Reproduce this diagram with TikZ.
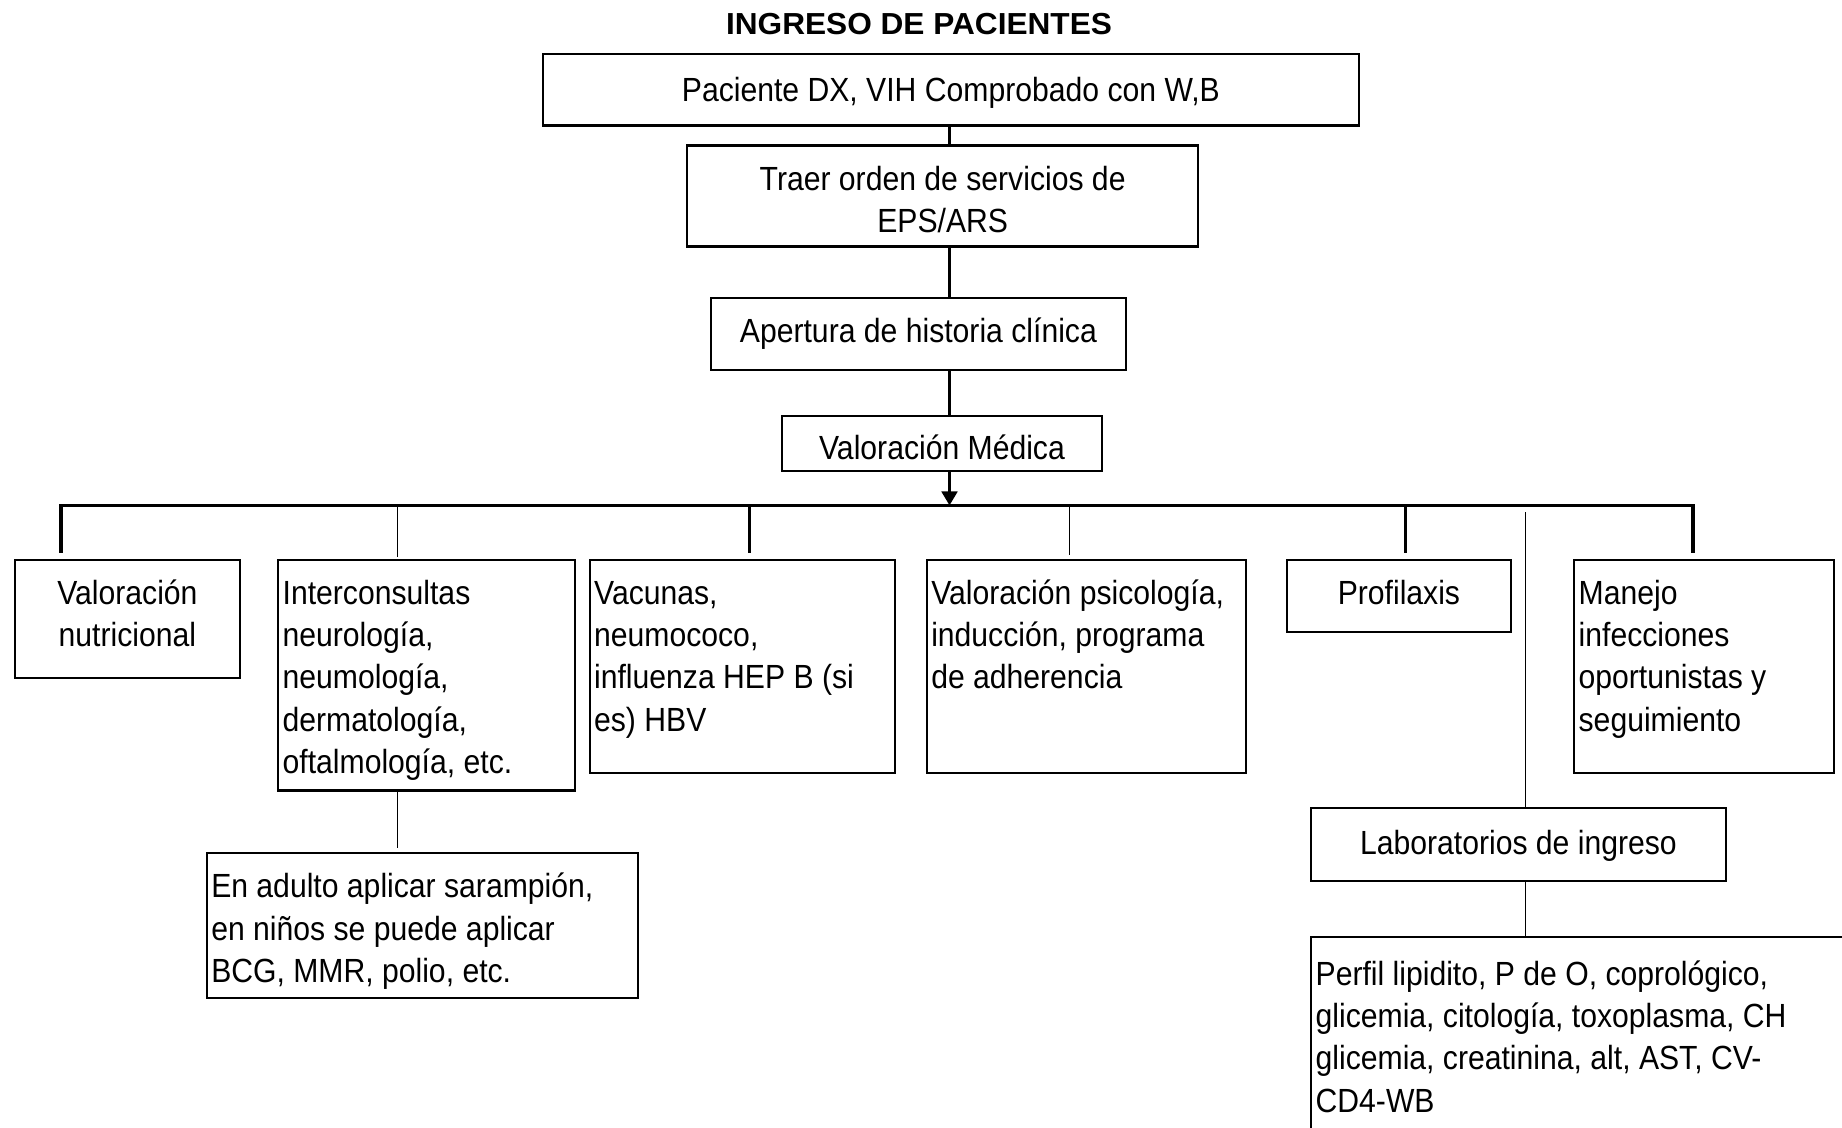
\documentclass[tikz,border=0pt]{standalone}
\usepackage{fontspec}
\setmainfont{Liberation Sans}[FakeStretch=0.9]
\newfontfamily\headfont{Liberation Sans Bold}[FakeStretch=1.04]
\usetikzlibrary{arrows.meta}

% one drawing unit = 0.5pt
\newlength\px
\setlength\px{0.5pt}
\newcommand\bodyfont{\fontsize{16.75pt}{21.2pt}\selectfont}
% \lcell{width}{height}{first baseline}{text}: left aligned, top anchored
\newcommand\lcell[4]{\parbox[c][#2\px][t]{#1\px}{\bodyfont\raggedright\leftskip=4.5\px\relax\rule{0pt}{#3\px}#4}}
% \ccell{width}{height}{first baseline}{text}: centred, top anchored
\newcommand\ccell[4]{\parbox[c][#2\px][t]{#1\px}{\bodyfont\centering\rule{0pt}{#3\px}#4}}

\tikzset{
  cell/.style={draw=black, line width=1.15pt, inner sep=0pt, anchor=north west, fill=white},
  heavy/.style={line width=1.75pt},
  light/.style={line width=0.8pt},
}

\begin{document}
\begin{tikzpicture}[x=0.5pt, y=-0.5pt]
\fill[white] (0,0) rectangle (1842,1128);
\useasboundingbox (0,0) rectangle (1842,1128);

% heading
\node[anchor=base, inner sep=0pt] (title) at (919,35) {\headfont\fontsize{15.2pt}{18pt}\selectfont INGRESO DE PACIENTES};

% main column
\node[cell] (pac) at (541.5,53) {\ccell{816.5}{71.5}{47}{Paciente DX, VIH Comprobado con W,B}};
\node[cell] (orden) at (686,144.5) {\ccell{511}{101}{44.5}{Traer orden de servicios de\\EPS/ARS}};
\node[cell] (hist) at (709.5,297) {\ccell{415.5}{72}{44}{Apertura de historia clínica}};
\node[cell] (med) at (781,414.7) {\ccell{319.7}{55.3}{43.3}{Valoración Médica}};

% branches
\node[cell] (nutr) at (14,559) {\ccell{224.5}{117.6}{44}{Valoración\\nutricional}};
\node[cell] (inter) at (277,559) {\lcell{297}{230.4}{44}{Interconsultas\\neurología,\\neumología,\\dermatología,\\oftalmología, etc.}};
\node[cell] (vac) at (588.5,559) {\lcell{305.5}{213}{44}{Vacunas,\\neumococo,\\influenza HEP B (si\\es) HBV}};
\node[cell] (psic) at (925.6,559) {\lcell{319.5}{213}{44}{Valoración psicología,\\inducción, programa\\de adherencia}};
\node[cell] (prof) at (1286,559) {\ccell{223.5}{72}{44}{Profilaxis}};
\node[cell] (manejo) at (1573,559) {\lcell{259.5}{213}{44}{Manejo\\infecciones\\oportunistas y\\seguimiento}};

% second level
\node[cell] (adulto) at (205.6,851.7) {\lcell{431}{145.3}{45}{En adulto aplicar sarampión,\\en niños se puede aplicar\\BCG, MMR, polio, etc.}};
\node[cell] (lab) at (1310,807) {\ccell{414.5}{73}{46}{Laboratorios de ingreso}};
\node[cell] (perfil) at (1310,936) {\lcell{545}{210}{48}{Perfil lipidito, P de O, coprológico,\\glicemia, citología, toxoplasma, CH\\glicemia, creatinina, alt, AST, CV-\\CD4-WB}};

% spine and bus
\coordinate (spine) at (949.5,0);
\coordinate (busL) at (61,505.5);
\coordinate (busR) at (1693,505.5);
\coordinate (dNutr) at (61,505.5);
\coordinate (dInter) at (397.5,505.5);
\coordinate (dVac) at (749.5,505.5);
\coordinate (dPsic) at (1069.5,505.5);
\coordinate (dProf) at (1405.5,505.5);
\coordinate (dMan) at (1693,505.5);
\coordinate (labTop) at (1525.5,512);

\draw[heavy] (pac.south -| spine) -- (orden.north -| spine);
\draw[heavy] (orden.south -| spine) -- (hist.north -| spine);
\draw[heavy] (hist.south -| spine) -- (med.north -| spine);
\draw[heavy, -{Triangle[width=7.7pt, length=7pt]}] (med.south -| spine) -- (busL -| spine);
\draw[heavy, line cap=rect] (busL) -- (busR);

% drops end a little above the boxes
\draw[heavy] (dNutr) -- ([yshift=3pt]dNutr |- nutr.north);
\draw[light] (dInter) -- ([yshift=1pt]dInter |- inter.north);
\draw[heavy] (dVac) -- ([yshift=3pt]dVac |- vac.north);
\draw[light] (dPsic) -- ([yshift=2pt]dPsic |- psic.north);
\draw[heavy] (dProf) -- ([yshift=3pt]dProf |- prof.north);
\draw[heavy] (dMan) -- ([yshift=3pt]dMan |- manejo.north);

\draw[light] (labTop) -- (labTop |- lab.north);
\draw[light] (lab.south -| labTop) -- (perfil.north -| labTop);
\draw[light] (inter.south -| dInter) -- ([yshift=2pt]adulto.north -| dInter);
\end{tikzpicture}
\end{document}
